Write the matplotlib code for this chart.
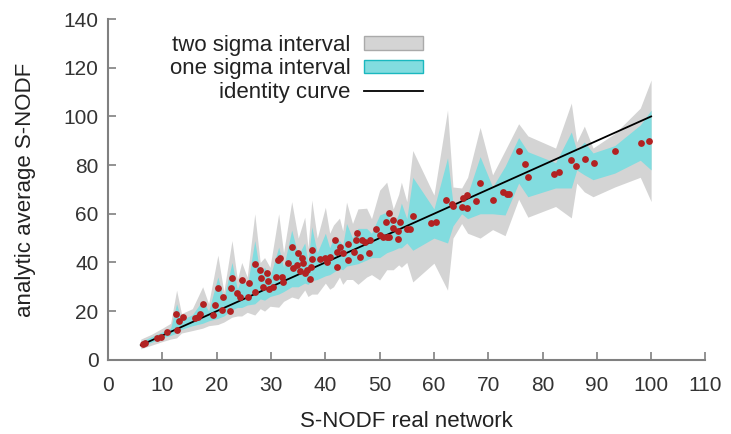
import numpy as np
import matplotlib.pyplot as plt
from matplotlib.patches import Patch
from matplotlib.lines import Line2D

# real network S-NODF vs analytic average S-NODF (points)
real_x = [6.4, 6.7, 9.0, 9.7, 10.8, 12.6, 12.4, 13.0, 13.7, 15.9, 16.5, 16.9, 17.4, 19.3, 19.7,
          20.2, 20.9, 21.1, 22.4, 22.6, 22.8, 23.7, 24.2, 24.6, 25.7, 25.9, 27.0, 27.0, 27.9, 28.1,
          28.5, 29.2, 29.4, 29.6, 30.3, 31.0, 31.2, 31.6, 32.0, 32.2, 33.1, 33.8, 34.0, 34.7, 34.9,
          35.3, 35.7, 35.8, 36.2, 36.6, 37.1, 37.3, 37.5, 37.5, 39.0, 39.9, 40.3, 40.8, 41.7, 42.1,
          42.1, 42.7, 43.2, 44.1, 44.1, 45.2, 45.8, 45.6, 46.3, 46.7, 47.3, 48.0, 48.2, 49.3, 50.0,
          50.6, 51.3, 51.7, 51.1, 51.7, 52.4, 52.4, 53.3, 53.3, 53.7, 55.0, 55.5, 56.1, 59.4, 60.3,
          62.3, 63.3, 63.6, 65.3, 66.0, 65.1, 66.0, 67.7, 68.4, 70.8, 72.8, 73.4, 73.8, 75.6, 76.7,
          77.4, 82.2, 83.1, 85.2, 86.1, 87.8, 89.4, 93.3, 98.1, 99.7]
avg_y = [6.5, 6.9, 8.9, 9.3, 11.4, 12.2, 18.8, 15.9, 17.5, 17.1, 17.5, 18.8, 22.9, 18.4, 22.5,
         29.5, 20.4, 25.8, 20.0, 29.5, 33.6, 27.4, 25.8, 32.8, 25.8, 31.5, 39.3, 27.8, 36.9, 33.6,
         29.9, 35.6, 32.3, 29.1, 29.9, 34.0, 41.0, 41.8, 34.0, 31.9, 39.7, 46.3, 37.7, 38.9, 43.9,
         36.5, 41.8, 39.7, 35.6, 36.9, 33.2, 38.1, 41.4, 45.1, 41.4, 41.8, 40.2, 42.2, 49.2, 38.1,
         44.3, 46.3, 43.9, 47.6, 41.0, 44.3, 52.1, 49.2, 42.2, 49.2, 48.4, 43.9, 49.2, 53.7, 51.3,
         50.4, 50.4, 50.4, 56.6, 60.3, 57.4, 54.1, 52.9, 49.6, 56.6, 53.7, 53.7, 59.1, 56.2, 56.6,
         65.6, 64.0, 63.2, 66.5, 67.7, 62.7, 62.3, 65.2, 72.6, 65.6, 68.9, 68.1, 68.1, 85.8, 80.4,
         75.1, 76.3, 77.1, 82.1, 79.6, 82.5, 80.8, 85.8, 89.1, 89.9]

# sigma bands
band_x = [6.0, 8.0, 10.0, 11.5, 12.6, 13.5, 15.5, 17.4, 18.5, 20.2, 21.3, 22.8, 23.8, 24.6, 25.6,
          27.0, 28.0, 28.8, 29.8, 31.4, 32.3, 33.8, 35.0, 36.2, 36.8, 37.5, 38.5, 40.0, 40.8, 41.5,
          42.6, 43.2, 43.9, 45.0, 46.0, 47.6, 48.5, 50.0, 51.3, 52.5, 53.5, 54.0, 55.0, 56.1, 60.0,
          62.5, 63.5, 65.1, 66.2, 68.5, 70.8, 73.1, 75.6, 77.3, 82.4, 85.3, 86.3, 87.7, 89.3, 93.3,
          98.0, 100.0]
lo2 = [4.5, 6, 7.5, 8.5, 9, 11, 12, 13, 14, 14.5, 15.5, 17.5, 18, 18, 19.5,
       18.4, 21, 20, 22, 21.6, 24, 25.8, 25, 28.7, 26, 27, 27, 31.5, 29, 30,
       34, 31, 33, 33, 31, 34, 35, 32.8, 37, 37, 39, 38, 40, 32, 39.7,
       28.6, 50, 56, 52, 50, 53.5, 51, 66, 58.6, 63, 58.3, 72.6, 69, 67, 71,
       75, 65]
lo1 = [5.5, 7.2, 9, 10, 11, 12.5, 14, 15, 16, 17, 18, 20.5, 21.5, 21.5, 22.5,
       23, 25, 24.5, 26, 27, 28, 30, 30, 31.5, 31, 32.5, 33, 34.5, 35, 36,
       37.5, 37, 38.5, 39, 39.5, 41, 42, 42, 44, 45, 46, 46, 48, 45, 50,
       48, 55, 60, 58, 60, 60, 59.5, 72.6, 67, 70.6, 70.6, 78, 76, 74, 76.7,
       82, 78]
hi1 = [7.5, 9.5, 11.5, 13, 23, 16.5, 18.5, 24.5, 20, 34, 25, 40, 29, 34, 30,
       49, 35, 38, 34, 46.3, 38, 53.3, 43, 48, 40, 54.6, 44, 52, 46, 50,
       49, 47, 56, 50, 54, 54, 52, 59.5, 60.7, 55, 60, 64.4, 58, 75, 62,
       83, 64.4, 64.4, 68, 83.5, 71, 79.5, 91.3, 85.5, 81, 93.6, 86, 89.5, 85, 88,
       96.5, 102.6]
hi2 = [8.5, 10.5, 13, 15, 28.6, 19, 21, 30, 23, 43, 28, 49, 33, 40, 34,
       60, 40, 42, 38, 60, 44, 65, 50, 58.6, 46, 65.6, 50, 62.7, 52, 55.4,
       58.2, 53, 64.8, 56, 62, 62.3, 58, 69.7, 73, 62, 68, 73, 65, 86, 67.7,
       102.6, 71, 70.6, 75, 95.5, 76, 86, 97, 92, 87, 105.5, 89.5, 96, 87, 93,
       103.4, 115]

identity_x = [6, 100]

plt.rcParams['font.family'] = ['Liberation Sans', 'DejaVu Sans']

fig = plt.figure(figsize=(7.31, 4.34), dpi=100)
ax = fig.add_axes([0.148, 0.171, 0.817, 0.785])

ax.fill_between(band_x, lo2, hi2, color='#d4d4d4', lw=0)
ax.fill_between(band_x, lo1, hi1, color='#82dcdf', lw=0)
ax.plot(identity_x, identity_x, color='black', lw=1.3)
ax.scatter(real_x, avg_y, s=24, color='#b22222', zorder=3, linewidths=0)

ax.set_xlim(0, 110)
ax.set_ylim(0, 140)
ax.set_xticks(np.arange(0, 111, 10))
ax.set_yticks(np.arange(0, 141, 20))

for s in ['top', 'right']:
    ax.spines[s].set_visible(False)
for s in ['left', 'bottom']:
    ax.spines[s].set_color('#808080')
    ax.spines[s].set_linewidth(1.5)
ax.tick_params(direction='in', length=6, width=1.2, color='#808080',
               labelcolor='#333333', labelsize=15)
ax.tick_params(axis='x', pad=12)
ax.tick_params(axis='y', pad=7)

ax.set_xlabel('S-NODF real network', fontsize=16, color='#222222', labelpad=11)
ax.set_ylabel('analytic average S-NODF', fontsize=16, color='#222222', labelpad=20)

handles = [Patch(facecolor='#d4d4d4', edgecolor='#aaaaaa', lw=1),
           Patch(facecolor='#82dcdf', edgecolor='#1ab8bf', lw=1),
           Line2D([], [], color='black', lw=1.3)]
labels = ['two sigma interval', 'one sigma interval', 'identity curve']
ax.legend(handles, labels, loc='upper right', bbox_to_anchor=(0.56, 1.013),
          frameon=False, markerfirst=False, fontsize=16, handlelength=2.65,
          handleheight=0.55, handletextpad=0.58, labelspacing=0.12,
          labelcolor='#222222')

fig.savefig('out.png', dpi=100)
